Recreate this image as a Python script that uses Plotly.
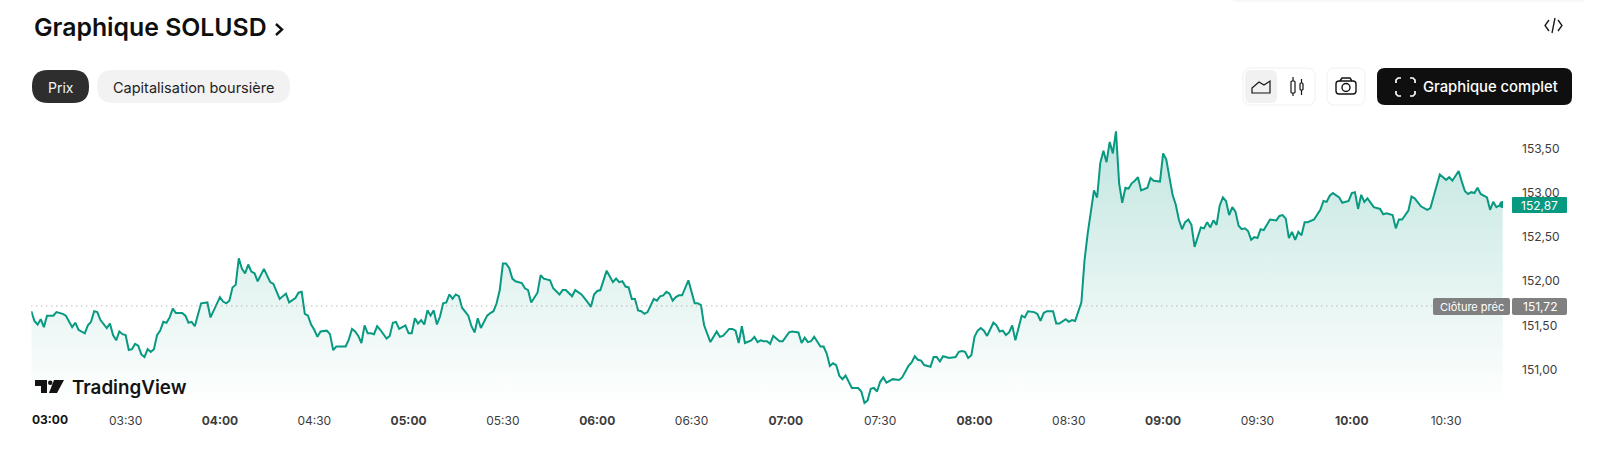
import plotly.graph_objects as go

W, H = 1600, 454
minutes = [
 0,1,2,3,4,5,7,8,10,11,13,14,15,17,18,19,20,21,22,24,25,26,27,28,29,30,31,32,33,34,35,36,37,38,39,40,41,42,43,44,45,46,48,49,50,51,52,54,56,57,60,61,62,63,64,65,66,67,68,69,70,71,72,74,76,77,79,81,82,84,85,86,87,88,89,90,91,92,94,95,96,97,100,101,102,103,104,105,106,107,108,109,110,111,113,114,115,116,117,
 119,120,121,122,123,124,125,126,127,128,129,130,131,132,133,134,135,136,137,139,140,141,142,143,145,146,147,148,149,150,151,152,153,154,156,157,158,159,161,162,163,165,166,168,169,170,172,173,175,177,178,179,180,181,183,185,186,187,188,189,190,191,192,193,194,195,196,198,199,200,201,202,203,204,205,206,207,209,211,212,213,214,216,218,219,220,222,223,224,225,226,227,229,230,231,232,233,234,235,236,238,239,241,242,244,245,
 246,247,248,249,251,252,253,254,255,256,257,258,259,261,263,264,265,266,267,268,269,270,271,272,274,276,277,279,280,281,282,283,284,286,287,288,289,290,292,294,295,296,297,298,299,300,301,302,303,304,306,307,308,309,310,311,312,313,315,316,317,319,320,321,322,323,325,326,327,329,330,331,332,334,
 335,336,337,338,339,340,341,342,343,344,345,346,347,348,349,350,351,352,353,355,356,357,359,360,361,363,364,365,366,367,368,369,370,372,373,374,375,376,377,378,379,380,381,382,383,384,385,386,387,388,389,390,391,392,394,396,397,398,399,400,401,402,403,404,405,406,408,410,411,412,413,414,416,417,419,420,421,422,
 423,424,425,427,429,430,431,433,434,435,436,438,439,440,442,444,445,447,448,450,451,452,454,455,456,457,458,459,460,461,463,464,465,466,467,468,
]
prices = [
 151.66,151.55,151.51,151.57,151.48,151.61,151.61,151.65,151.63,151.61,151.48,151.53,151.45,151.41,151.50,151.54,151.66,151.65,151.56,151.47,151.52,151.39,151.33,151.43,151.40,151.39,151.22,151.23,151.29,151.27,151.17,151.14,151.23,151.20,151.23,151.39,151.44,151.54,151.53,151.59,151.69,151.64,151.64,151.61,151.53,151.54,151.49,151.75,151.76,151.59,151.82,151.77,151.75,151.78,151.93,151.96,152.26,152.14,152.09,152.19,152.11,152.09,152.00,152.14,151.99,151.97,151.80,151.86,151.76,151.81,151.87,151.88,151.63,151.61,151.51,151.45,151.37,151.43,151.44,151.40,151.22,151.26,151.26,151.34,151.46,151.43,151.38,151.30,151.50,151.41,151.41,151.40,151.49,151.45,151.35,151.38,151.53,151.54,151.46,
 151.50,151.41,151.41,151.58,151.52,151.56,151.51,151.67,151.61,151.67,151.51,151.60,151.75,151.76,151.85,151.80,151.85,151.83,151.70,151.61,151.49,151.42,151.58,151.47,151.61,151.64,151.66,151.75,151.90,152.20,152.20,152.15,152.03,152.00,151.98,151.92,151.90,151.76,151.87,152.07,152.03,152.01,151.92,151.85,151.90,151.90,151.83,151.90,151.85,151.76,151.71,151.85,151.89,151.90,152.12,151.99,152.03,151.99,152.00,151.94,151.93,151.80,151.80,151.67,151.66,151.63,151.65,151.80,151.78,151.83,151.84,151.88,151.86,151.78,151.82,151.84,151.84,152.01,151.75,151.75,151.73,151.50,151.31,151.43,151.37,151.38,151.46,151.46,151.44,151.30,151.49,151.30,151.33,151.37,151.31,151.33,151.32,151.32,151.29,151.38,151.32,151.32,151.42,151.43,151.42,151.30,
 151.36,151.31,151.32,151.37,151.26,151.26,151.18,151.04,151.07,151.05,150.93,150.89,150.93,150.79,150.79,150.75,150.62,150.65,150.78,150.79,150.75,150.86,150.91,150.85,150.89,150.88,150.91,151.04,151.08,151.15,151.11,151.10,151.05,151.03,151.14,151.14,151.09,151.15,151.13,151.14,151.20,151.21,151.20,151.13,151.16,151.37,151.44,151.47,151.44,151.38,151.53,151.50,151.43,151.44,151.39,151.42,151.50,151.33,151.61,151.59,151.66,151.65,151.63,151.55,151.64,151.66,151.66,151.52,151.52,151.57,151.54,151.56,151.55,151.76,
 152.24,152.54,152.81,153.03,152.95,153.34,153.48,153.35,153.58,153.45,153.70,153.11,152.89,153.06,153.05,153.11,153.14,153.18,153.03,153.06,153.17,153.14,153.13,153.45,153.38,152.98,152.87,152.70,152.59,152.67,152.70,152.64,152.39,152.61,152.60,152.67,152.61,152.69,152.64,152.86,152.95,152.91,152.75,152.84,152.79,152.63,152.59,152.60,152.57,152.47,152.50,152.49,152.59,152.58,152.70,152.69,152.74,152.75,152.71,152.49,152.56,152.47,152.56,152.52,152.67,152.67,152.70,152.81,152.91,152.90,152.97,153.00,152.95,152.89,152.91,153.00,153.01,152.82,
 152.98,152.90,152.94,152.84,152.82,152.76,152.77,152.75,152.60,152.70,152.70,152.80,152.96,152.94,152.85,152.81,152.83,153.07,153.21,153.15,153.18,153.14,153.25,153.13,153.02,152.99,153.01,153.00,153.06,152.99,152.95,152.81,152.90,152.84,152.86,152.87,
]
assert len(minutes) == len(prices), (len(minutes), len(prices))

time_ticks = [30,60,90,120,150,180,210,240,270,300,330,360,390,420,450]
time_labels = ["03:30","04:00","04:30","05:00","05:30","06:00","06:30","07:00","07:30","08:00","08:30","09:00","09:30","10:00","10:30"]
price_ticks = [151.0,151.5,152.0,152.5,153.0,153.5]
prev_close = 151.72
last_price = 152.87

GREEN = "#089981"
FONT = "Inter"
def X(p): return p / W
def Y(p): return 1 - p / H
def rr(x0, y0, x1, y1, r):
    a, b, c, d = X(x0), Y(y0), X(x1), Y(y1)
    rx, ry = r / W, r / H
    return (f"M{a+rx},{b} L{c-rx},{b} Q{c},{b} {c},{b-ry} L{c},{d+ry} Q{c},{d} {c-rx},{d} "
            f"L{a+rx},{d} Q{a},{d} {a},{d+ry} L{a},{b-ry} Q{a},{b} {a+rx},{b} Z")
def poly(pts, close=False):
    s = "M" + " L".join(f"{X(x)},{Y(y)}" for x, y in pts)
    return s + (" Z" if close else "")

fig = go.Figure()
fig.add_trace(go.Scatter(
    x=minutes, y=prices, mode="lines", fill="tozeroy",
    line=dict(color=GREEN, width=2, shape="linear"),
    fillgradient=dict(type="vertical", start=150.6, stop=153.7,
                      colorscale=[[0, "rgba(8,153,129,0)"], [1, "rgba(8,153,129,0.25)"]]),
    hoverinfo="skip", showlegend=False))
fig.add_trace(go.Scatter(x=minutes[-1:], y=prices[-1:], mode="markers",
    marker=dict(color=GREEN, size=7), hoverinfo="skip", showlegend=False))

shapes = []
def fillshape(path, fill, line=None, lw=1):
    shapes.append(dict(type="path", path=path, xref="paper", yref="paper", fillcolor=fill,
                       line=dict(color=line or "rgba(0,0,0,0)", width=lw if line else 0), layer="above"))
def stroke(path, color="#131313", lw=1.4):
    shapes.append(dict(type="path", path=path, xref="paper", yref="paper",
                       line=dict(color=color, width=lw), layer="above"))

# previous close dotted line
shapes.append(dict(type="line", xref="x", yref="y", x0=0, x1=447, y0=prev_close, y1=prev_close,
                   line=dict(color="#9a9a9a", width=1, dash="1px,4px"), layer="above"))
# top shadow
fillshape(rr(1232, -6, 1586, 2, 4), "#f8f8f8")
# pills
fillshape(rr(32, 70, 89, 103, 16), "#2e2e2e")
fillshape(rr(97, 70, 290, 103, 16), "#f2f2f2")
# toggle boxes
fillshape(rr(1243, 68, 1315, 105, 8), "#ffffff", "#f0f0f0")
fillshape(rr(1245, 70, 1277, 103, 6), "#f1f1f1")
fillshape(rr(1327, 68, 1365, 105, 8), "#ffffff", "#f0f0f0")
fillshape(rr(1377, 68, 1572, 105, 8), "#0f0f0f")
# area icon
stroke(poly([(1252, 93), (1252, 88), (1259, 82), (1264, 85), (1270, 81), (1270, 93)], True), lw=1.2)
# candle icon
stroke(rr(1291, 81, 1295, 93, 1), lw=1.2)
stroke(poly([(1293, 77), (1293, 81)]), lw=1.2); stroke(poly([(1293, 93), (1293, 96)]), lw=1.2)
stroke(rr(1300, 83, 1303, 90, 1), lw=1.2)
stroke(poly([(1301.5, 79), (1301.5, 83)]), lw=1.2); stroke(poly([(1301.5, 90), (1301.5, 95)]), lw=1.2)
# camera
stroke(rr(1336, 81, 1356, 94, 3), lw=1.4)
stroke(poly([(1340, 81), (1342, 78), (1350, 78), (1352, 81)]), lw=1.4)
shapes.append(dict(type="circle", xref="paper", yref="paper", x0=X(1342), x1=X(1350), y0=Y(91.5), y1=Y(83.5),
                   line=dict(color="#131313", width=1.4), layer="above"))
# fullscreen corners
for pts in ([(1396, 83), (1396, 80), (1398, 78), (1401, 78)], [(1410, 78), (1413, 78), (1415, 80), (1415, 83)],
            [(1396, 91), (1396, 94), (1398, 96), (1401, 96)], [(1410, 96), (1413, 96), (1415, 94), (1415, 91)]):
    stroke(poly(pts), "#ffffff", 1.7)
# embed icon
stroke(poly([(1549, 20), (1545, 25.5), (1549, 31)]), lw=1.3)
stroke(poly([(1558, 20), (1562, 25.5), (1558, 31)]), lw=1.3)
stroke(poly([(1555, 18), (1552, 33)]), lw=1.3)
# header chevron
stroke(poly([(276, 24), (282, 29.5), (276, 35)]), "#0f0f0f", 2.4)
# price badges
fillshape(rr(1512, 197, 1567, 213, 1), GREEN)
fillshape(rr(1433, 298, 1510, 315, 2), "#808080")
fillshape(rr(1512, 298, 1567, 315, 2), "#808080")
# TradingView logo
fillshape(poly([(35, 380), (47, 380), (47, 393), (41, 393), (41, 386), (35, 386)], True), "#131313")
shapes.append(dict(type="circle", xref="paper", yref="paper", x0=X(48), x1=X(52.5), y0=Y(385), y1=Y(380.5),
                   fillcolor="#131313", line=dict(width=0), layer="above"))
fillshape(poly([(54, 380), (64, 380), (57, 393), (49, 393)], True), "#131313")

def text(x, y, s, size, color="#131313", anchor="left", weight=400):
    return dict(x=X(x), y=Y(y), xref="paper", yref="paper", text=s, showarrow=False, xanchor=anchor, yanchor="middle",
                font=dict(family=FONT, size=size, color=color, weight=weight), align=anchor)
ann = [
    text(31.5, 27, "Graphique SOLUSD", 24.8, "#0f0f0f", weight=600),
    text(60.5, 87, "Prix", 14, "#f2f2f2", "center"),
    text(193.5, 87, "Capitalisation boursière", 14.5, "#1f1f1f", "center"),
    text(1421, 87, "Graphique complet", 14.8, "#ffffff", weight=500),
    text(70, 387, "TradingView", 18.8, "#131313", weight=600),
    text(50, 419.5, "<b>03:00</b>", 12, "#131313", "center"),
    text(1539.5, 205, f"{last_price:.2f}".replace(".", ","), 12, "#ffffff", "center"),
    text(1471.5, 306.5, "Clôture préc", 11, "#ffffff", "center"),
    text(1539.5, 306.5, f"{prev_close:.2f}".replace(".", ","), 12, "#ffffff", "center"),
]

ticktext = [f"<b>{t}</b>" if t.endswith(":00") else t for t in time_labels]
fig.update_layout(
    width=W, height=H, margin=dict(l=0, r=0, t=0, b=0), autosize=False,
    paper_bgcolor="white", plot_bgcolor="white", separators=", ",
    shapes=shapes, annotations=ann, font=dict(family=FONT),
    xaxis=dict(domain=[31.3 / W, 1503 / W], range=[0, 468.1], showgrid=False, zeroline=False, showline=False,
               tickmode="array", tickvals=time_ticks, ticktext=ticktext, ticks="", ticklabelstandoff=7,
               tickfont=dict(family=FONT, size=12, color="#3c3c3c")),
    yaxis=dict(domain=[1 - 405 / H, 1 - 115 / H], range=[150.597, 153.885], side="right", showgrid=False,
               zeroline=False, showline=False, tickmode="array", tickvals=price_ticks, tickformat=".2f", ticks="",
               ticklabelstandoff=18, tickfont=dict(family=FONT, size=12, color="#3c3c3c")),
)
fig.write_html("out.html", config=dict(displayModeBar=False),
               post_script="document.body.style.margin='0';document.body.style.overflow='hidden';")
